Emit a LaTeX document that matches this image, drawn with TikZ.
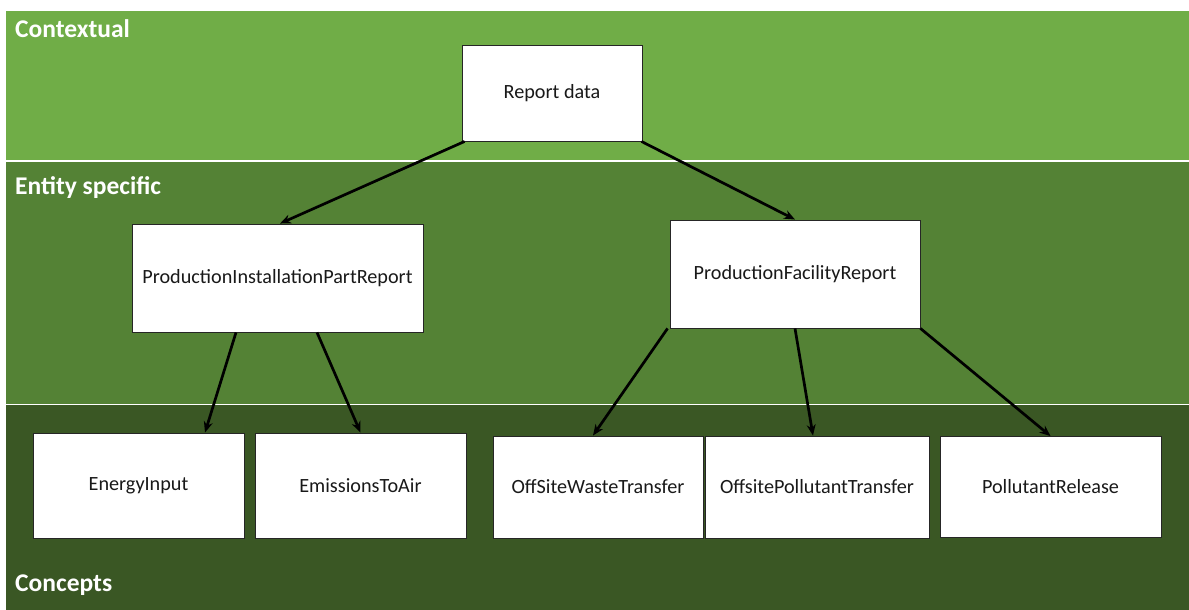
\documentclass[tikz,border=0pt]{standalone}
\usepackage{fontspec}
\setmainfont{Carlito}
\usetikzlibrary{arrows.meta}
\definecolor{ctxgreen}{HTML}{70AD47}
\definecolor{entgreen}{HTML}{548235}
\definecolor{congreen}{HTML}{3A5724}
\tikzset{
  bandlabel/.style={anchor=base west, text=white, font=\fontsize{25.5}{28}\selectfont\bfseries, inner sep=0pt},
  box/.style={draw=black!85, line width=0.9pt, fill=white, inner sep=0pt, font=\fontsize{20.2}{23}\selectfont, text=black!90},
  conn/.style={line width=2.7pt, -{Stealth[length=11pt,width=9pt]}, black}
}
\begin{document}
\begin{tikzpicture}[x=1pt,y=-1pt]
\useasboundingbox (0,0) rectangle (1189,610);
\fill[white] (0,0) rectangle (1189,610);
% bands
\fill[ctxgreen] (6,11) rectangle (1189,160);
\fill[entgreen] (6,161.5) rectangle (1189,403.5);
\fill[congreen] (6,405) rectangle (1189,610);
\node[bandlabel] (lctx) at (15,38) {Contextual};
\node[bandlabel] (lent) at (15,194) {Entity specific};
\node[bandlabel] (lcon) at (15,591) {Concepts};
% boxes
\node[box, minimum width=180pt, minimum height=96pt] (report) at (552,93) {Report data};
\node[box, minimum width=291pt, minimum height=108pt] (pipr) at (277.5,278) {ProductionInstallationPartReport};
\node[box, minimum width=250pt, minimum height=108pt] (pfr) at (795,274) {ProductionFacilityReport};
\node[box, minimum width=211pt, minimum height=105pt] (energy) at (138.5,485.5) {EnergyInput};
\node[box, minimum width=211pt, minimum height=105pt] (emis) at (360.5,485.5) {EmissionsToAir};
\node[box, minimum width=210pt, minimum height=102pt] (waste) at (598,487) {OffSiteWasteTransfer};
\node[box, minimum width=224pt, minimum height=102pt] (poll) at (817,487) {OffsitePollutantTransfer};
\node[box, minimum width=221pt, minimum height=101pt] (release) at (1050.5,487) {PollutantRelease};
% connectors
\draw[conn] ([xshift=3pt]report.south west) -- ([xshift=2.5pt]pipr.north);
\draw[conn] ([xshift=-1pt]report.south east) -- (pfr.north);
\draw[conn] ([xshift=-41.5pt]pipr.south) -- ([xshift=66.5pt]energy.north);
\draw[conn] ([xshift=39.5pt]pipr.south) -- (emis.north);
\draw[conn] ([xshift=-2pt]pfr.south west) -- ([xshift=-5pt]waste.north);
\draw[conn] (pfr.south) -- ([xshift=-4pt]poll.north);
\draw[conn] (pfr.south east) -- (release.north);
\end{tikzpicture}
\end{document}
